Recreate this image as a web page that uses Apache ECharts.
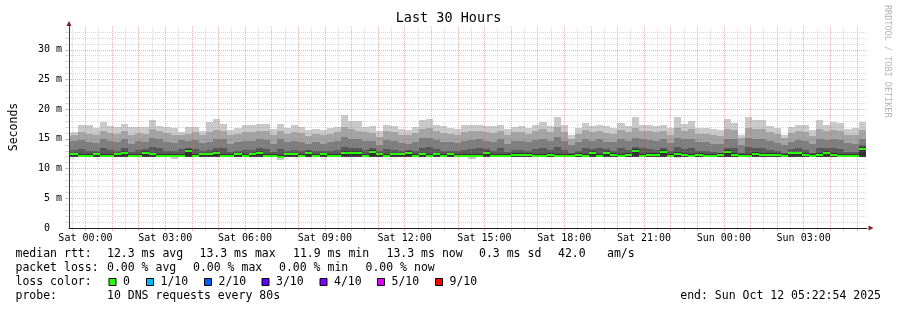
<!DOCTYPE html>
<html><head><meta charset="utf-8">
<script src="https://cdn.jsdelivr.net/npm/echarts@6/dist/echarts.min.js"></script>
<style>html,body{margin:0;padding:0;background:#fff}#c{width:897px;height:310px}</style>
</head><body><div id="c"></div>
<script>
// ---- time layout (hours relative to Sat 00:00) ----
const X_MIN_H = -0.618333;      // Fri 23:22:54
const X_MAX_H = 29.381667;      // Sun 05:22:54
const FIRST_BAR_START_MIN = -48;
const BAR_STEP_MIN = 16;
const xLabelHours = [0, 3, 6, 9, 12, 15, 18, 21, 24, 27];
const yLabelValues = [0, 5, 10, 15, 20, 25, 30];

// ---- data (ms), one value per 16-minute bar ----
const median = [
 12.4,12.4,12.1,12.1,12.4,12.1,12.1,12.4,12.7,12.1,
 12.1,12.7,12.4,12.1,12.1,12.1,12.1,13.0,12.1,12.4,
 12.4,12.7,12.1,12.1,12.4,12.1,12.4,12.7,12.1,12.1,
 11.9,12.4,12.4,12.1,12.7,12.1,12.4,12.1,12.1,12.7,
 12.7,12.7,12.1,12.8,12.4,12.1,12.4,12.4,12.7,12.1,
 12.4,12.1,12.4,12.1,12.4,12.1,12.1,12.1,12.1,12.7,
 12.1,12.1,12.1,12.3,12.3,12.3,12.1,12.1,12.3,12.1,
 12.1,12.1,12.3,12.1,12.7,12.1,12.7,12.35,12.1,12.35,
 12.95,12.1,12.35,12.35,12.85,12.1,12.5,12.3,12.1,12.3,
 12.1,12.1,12.3,12.75,12.35,12.1,12.1,12.5,12.25,12.25,
 12.25,12.1,12.55,12.55,12.3,12.1,12.3,12.6,12.3,12.1,
 12.1,12.1,13.3];
const pingMin = [
 11.9,11.9,11.9,11.9,11.9,11.9,11.9,11.9,11.9,11.9,
 11.9,11.9,11.9,11.9,11.9,11.6,11.9,11.9,11.9,11.9,
 11.9,11.9,11.9,11.9,11.9,11.9,11.9,11.9,11.9,11.9,
 11.5,11.9,11.9,11.9,11.9,11.9,11.9,11.9,11.9,11.9,
 11.9,11.9,11.9,11.9,11.9,11.9,11.9,11.9,11.9,11.9,
 11.9,11.9,11.9,11.9,11.9,11.9,11.9,11.6,11.9,11.9,
 11.9,11.9,11.9,11.9,11.9,11.9,11.9,11.9,11.9,11.9,
 11.9,11.9,11.9,11.9,11.9,11.9,11.9,11.9,11.9,11.9,
 11.9,11.9,11.9,11.9,11.9,11.9,11.7,11.9,11.9,11.9,
 11.9,11.9,11.9,11.9,11.9,11.9,11.9,11.9,11.9,11.9,
 11.9,11.9,11.9,11.9,11.9,11.9,11.9,11.9,11.9,11.9,
 11.9,11.9,11.9];
const ping5 = [
 12.0,12.0,12.0,12.0,12.0,12.0,12.0,12.0,12.0,12.0,
 12.0,12.0,12.0,12.0,12.0,12.0,12.0,12.0,12.0,12.0,
 12.0,12.0,12.0,12.0,12.0,12.0,12.0,12.0,12.0,12.0,
 11.85,12.0,12.0,12.0,12.0,12.0,12.0,12.0,12.0,12.0,
 12.0,12.0,12.0,12.0,12.0,12.0,12.0,12.0,12.0,12.0,
 12.0,12.0,12.0,12.0,12.0,12.0,12.0,12.0,12.0,12.0,
 12.0,12.0,12.0,12.0,12.0,12.0,12.0,12.0,12.0,12.0,
 12.0,12.0,12.0,12.0,12.0,12.0,12.0,12.0,12.0,12.0,
 12.0,12.0,12.0,12.0,12.0,12.0,12.0,12.0,12.0,12.0,
 12.0,12.0,12.0,12.0,12.0,12.0,12.0,12.0,12.0,12.0,
 12.0,12.0,12.0,12.0,12.0,12.0,12.0,12.0,12.0,12.0,
 12.0,12.0,12.0];
const ping6 = [
 12.7,12.7,12.45,12.5,12.7,12.45,12.5,12.7,13.0,12.45,
 12.5,13.0,12.7,12.45,12.5,12.45,12.5,13.25,12.45,12.7,
 12.7,13.0,12.5,12.45,12.7,12.45,12.7,13.0,12.5,12.45,
 12.3,12.7,12.7,12.45,13.0,12.45,12.7,12.45,12.5,13.0,
 13.0,13.0,12.5,13.1,12.65,12.45,12.7,12.7,13.0,12.45,
 12.7,12.5,12.7,12.45,12.7,12.45,12.5,12.5,12.45,13.0,
 12.45,12.5,12.45,12.6,12.6,12.6,12.45,12.5,12.6,12.5,
 12.45,12.4,12.6,12.45,13.0,12.5,13.0,12.6,12.45,12.6,
 13.25,12.45,12.6,12.65,13.15,12.45,12.8,12.6,12.45,12.6,
 12.45,12.45,12.6,13.05,12.65,12.4,12.45,12.8,12.55,12.55,
 12.55,12.4,12.85,12.85,12.6,12.45,12.6,12.9,12.6,12.45,
 12.45,12.5,13.6];
const ping7 = [
 13.0,13.1,13.3,13.0,12.9,13.4,13.2,13.0,13.5,12.8,
 13.1,13.3,13.6,13.4,13.0,12.9,13.3,13.5,13.3,12.9,
 13.1,13.5,13.4,12.8,13.0,13.2,13.1,13.4,13.3,12.8,
 13.3,13.0,13.2,13.0,13.1,13.0,12.9,13.0,13.1,13.7,
 13.5,13.4,13.1,13.4,12.9,13.3,13.1,12.9,13.2,13.0,
 13.5,13.6,13.3,13.0,13.0,12.9,13.2,13.3,13.4,13.3,
 13.0,13.4,12.8,13.1,13.2,12.9,13.3,13.5,13.1,13.7,
 13.2,12.7,13.0,13.4,13.3,13.4,13.3,13.0,13.5,13.1,
 13.7,13.4,13.3,13.2,13.5,12.9,13.6,13.3,13.5,12.9,
 12.9,12.8,12.7,13.5,13.4,12.6,13.6,13.5,13.4,13.1,
 12.9,12.6,13.3,13.4,13.2,12.7,13.4,13.5,13.4,13.3,
 12.8,12.8,13.9];
const ping8 = [
 14.4,14.6,14.8,14.5,14.3,14.9,14.7,14.4,15.0,14.2,
 14.6,14.5,15.2,14.9,14.5,14.3,14.8,14.6,14.8,14.3,
 14.5,15.0,14.9,14.2,14.4,14.7,14.6,14.9,14.8,14.2,
 14.9,14.4,14.7,14.5,14.1,14.4,14.2,14.5,14.6,15.4,
 15.0,14.9,14.6,14.6,14.0,14.8,14.6,14.3,14.2,14.5,
 15.1,15.2,14.8,14.5,14.4,14.3,14.7,14.8,14.9,14.6,
 14.5,14.9,14.2,14.6,14.7,14.4,14.8,15.0,14.6,15.3,
 14.7,14.0,14.5,15.0,14.6,14.9,14.5,14.4,15.0,14.6,
 15.2,14.9,14.8,14.6,14.9,14.3,15.1,14.9,15.0,14.4,
 14.4,14.2,14.1,15.0,14.9,13.9,15.2,15.0,15.0,14.6,
 14.3,13.9,14.5,14.8,14.7,14.1,15.0,14.8,14.9,14.8,
 14.3,14.2,15.0];
const ping9 = [
 15.5,15.6,16.1,15.9,15.6,16.3,16.0,15.8,16.4,15.6,
 16.0,15.9,16.6,16.3,16.0,15.7,15.6,15.8,16.2,15.6,
 16.1,16.5,16.4,15.6,15.8,16.2,16.1,16.4,16.3,15.6,
 16.3,15.8,16.2,16.0,15.5,15.8,15.6,15.9,16.1,17.0,
 16.6,16.4,16.1,16.0,15.4,16.3,16.1,15.7,15.6,16.0,
 16.7,16.8,16.3,16.0,15.8,15.7,16.2,16.3,16.4,16.1,
 16.0,16.4,15.6,16.1,16.2,15.9,16.3,16.6,16.1,17.0,
 16.2,15.0,15.9,16.5,16.1,16.4,16.0,15.9,16.5,16.1,
 16.9,16.4,16.3,16.1,16.4,15.7,16.8,16.4,16.6,15.9,
 15.8,15.6,15.5,16.7,16.5,15.1,16.9,16.6,16.7,16.1,
 15.8,15.1,16.0,16.4,16.2,15.5,16.6,16.3,16.5,16.4,
 15.7,15.6,16.5];
const pingMax = [
 16.0,16.2,17.3,17.4,16.8,17.8,17.1,17.0,17.5,17.0,
 17.0,17.0,18.1,17.1,17.0,16.8,16.2,17.0,17.0,16.3,
 17.9,18.4,17.5,16.5,16.8,17.3,17.3,17.5,17.5,16.7,
 17.5,16.9,17.4,17.0,16.5,16.7,16.5,16.8,17.0,19.0,
 18.0,18.0,17.0,17.1,16.4,17.4,17.1,16.7,16.5,17.0,
 18.2,18.3,17.4,17.1,16.9,16.7,17.4,17.4,17.4,17.1,
 17.1,17.4,16.7,17.0,17.1,16.9,17.4,17.8,17.1,18.6,
 17.3,15.6,16.9,17.7,17.1,17.4,17.1,16.9,17.7,17.1,
 18.6,17.4,17.4,17.1,17.4,16.8,18.7,17.5,18.0,16.9,
 16.8,16.7,16.5,18.3,17.7,15.7,18.6,18.2,18.2,17.1,
 16.8,15.7,17.0,17.4,17.3,16.5,18.1,17.3,17.8,17.7,
 16.7,16.8,17.8];

// ---- legend texts ----
const rttStats = ['12.3 ms avg', '13.3 ms max', '11.9 ms min', '13.3 ms now', '0.3 ms sd', '42.0', 'am/s'];
const lossStats = ['0.00 % avg', '0.00 % max', '0.00 % min', '0.00 % now'];
const lossLabels = ['0', '1/10', '2/10', '3/10', '4/10', '5/10', '9/10'];
const lossColors = ['#26ff00', '#00b8ff', '#0059ff', '#5e00ff', '#7e00ff', '#dd00ff', '#ff0000'];
const probeText = '10 DNS requests every 80s';
const endText = 'end: Sun Oct 12 05:22:54 2025';

// ---- build ----
const MONO = '"DejaVu Sans Mono", monospace';
const SWIDTH = 0.17;
const SMOKE_COLORS = ['#cacaca', '#323232', '#585858', '#7e7e7e', '#a4a4a4', '#cacaca'];

const barData = median.map((m, i) => [
  (FIRST_BAR_START_MIN + i * BAR_STEP_MIN) / 60,
  (FIRST_BAR_START_MIN + (i + 1) * BAR_STEP_MIN) / 60,
  pingMin[i], ping5[i], ping6[i], ping7[i], ping8[i], ping9[i], pingMax[i], m
]);

function renderBar(params, api) {
  const t0 = Math.max(api.value(0), X_MIN_H);
  const t1 = Math.min(api.value(1), X_MAX_H);
  if (t1 <= t0) return null;
  const x0 = Math.round(api.coord([t0, 0])[0]);
  const x1 = Math.round(api.coord([t1, 0])[0]);
  const children = [];
  for (let k = 0; k < 6; k++) {
    const lo = api.value(2 + k), hi = api.value(3 + k);
    const yLo = Math.round(api.coord([t0, lo])[1]);
    const yHi = Math.round(api.coord([t0, hi])[1]);
    if (yLo - yHi <= 0) continue;
    children.push({ type: 'rect', shape: { x: x0, y: yHi, width: x1 - x0, height: yLo - yHi },
      style: { fill: SMOKE_COLORS[k] } });
  }
  const m = api.value(9);
  const yA = Math.round(api.coord([t0, m + SWIDTH])[1]);
  const yB = Math.round(api.coord([t0, m - SWIDTH])[1]);
  children.push({ type: 'rect', shape: { x: x0, y: yA, width: x1 - x0, height: Math.max(2, yB - yA) },
    style: { fill: lossColors[0] } });
  return { type: 'group', children };
}

const series = [{
  name: 'smoke', type: 'custom', data: barData, renderItem: renderBar,
  encode: { x: [0, 1], y: [2, 3, 4, 5, 6, 7, 8, 9] }, z: 2, silent: true, animation: false
}];

// grid lines drawn on top (as rrdtool does)
const MAJ = 'rgba(222,79,79,0.45)', MIN = 'rgba(143,143,143,0.34)';
const gridLines = [];
for (let h = -0.5; h <= 29.0; h += 0.5) {
  gridLines.push({ xAxis: h, lineStyle: { color: Number.isInteger(h) ? MAJ : MIN, width: 1, type: [1, 1] } });
}
for (let v = 1; v <= 33; v++) {
  gridLines.push({ yAxis: v, lineStyle: { color: v % 5 === 0 ? MAJ : MIN, width: 1, type: [1, 1] } });
}
series.push({
  name: 'grid', type: 'line', data: [], z: 5, silent: true, animation: false,
  markLine: { silent: true, symbol: ['none', 'none'], label: { show: false }, animation: false, data: gridLines }
});

const hourTicks = [], halfTicks = [];
for (let h = -0.5; h <= 29.0; h += 0.5) (Number.isInteger(h) ? hourTicks : halfTicks).push(h);
const yMajorTicks = [5, 10, 15, 20, 25, 30];
const yMinorTicks = [];
for (let v = 1; v <= 33; v++) if (v % 5) yMinorTicks.push(v);

const graphic = [];
function txt(x, y, text) {
  graphic.push({ type: 'text', x, y, silent: true, style: {
    text, font: '11.5px ' + MONO, fill: '#000', align: 'left', verticalAlign: 'middle',
    textAlign: 'left', textVerticalAlign: 'middle' } });
}
txt(15.5, 254.5, 'median rtt:');
[107, 199.5, 293, 386.5, 479, 558, 607].forEach((x, i) => txt(x, 254.5, rttStats[i]));
txt(15.5, 268.5, 'packet loss:');
[107, 193, 279, 365.5].forEach((x, i) => txt(x, 268.5, lossStats[i]));
txt(15.5, 282.5, 'loss color:');
[108.5, 146, 204, 261.5, 319.5, 377, 435].forEach((x, i) => {
  graphic.push({ type: 'rect', silent: true, shape: { x: x + 0.5, y: 278.5, width: 7, height: 7 },
    style: { fill: lossColors[i], stroke: '#000', lineWidth: 1 } });
  txt(x + 14.5, 282.5, lossLabels[i]);
});
txt(15.5, 296.5, 'probe:');
txt(107, 296.5, probeText);
graphic.push({ type: 'text', x: 881, y: 296.5, silent: true, style: {
  text: endText, font: '11.5px ' + MONO, fill: '#000', align: 'right', verticalAlign: 'middle',
  textAlign: 'right', textVerticalAlign: 'middle' } });
graphic.push({ type: 'text', x: 887.5, y: 5, rotation: -Math.PI / 2, silent: true, style: {
  text: 'RRDTOOL / TOBI OETIKER', font: '8.5px ' + MONO, fill: '#b4b4b4', align: 'left', verticalAlign: 'middle',
  textAlign: 'left', textVerticalAlign: 'middle' } });

const chart = echarts.init(document.getElementById('c'), null, { renderer: 'canvas' });
chart.setOption({
  animation: false,
  backgroundColor: '#ffffff',
  title: { text: 'Last 30 Hours', left: 'center', top: 11, padding: 0,
    textStyle: { fontFamily: MONO, fontSize: 13.5, fontWeight: 'normal', color: '#000' } },
  grid: { left: 67, right: 30, top: 26, bottom: 82 },
  xAxis: [
    { type: 'value', min: X_MIN_H, max: X_MAX_H, position: 'bottom', z: 9,
      axisLine: { show: true, onZero: false, lineStyle: { color: '#801f1f', width: 0 }, symbol: ['none', 'triangle'], symbolSize: [5, 5], symbolOffset: [0, 4] },
      axisTick: { show: true, customValues: halfTicks, length: 3, lineStyle: { color: MIN, width: 1 } },
      axisLabel: { show: false }, splitLine: { show: false } },
    { type: 'value', min: X_MIN_H, max: X_MAX_H, position: 'bottom', z: 10,
      axisLine: { show: true, onZero: false, lineStyle: { color: '#1f1f1f' } },
      axisTick: { show: true, customValues: hourTicks, length: 3, lineStyle: { color: MAJ } },
      axisLabel: { customValues: xLabelHours, margin: 5, fontFamily: MONO, fontSize: 10, color: '#000',
        formatter: v => (v < 24 ? 'Sat ' : 'Sun ') + String(v % 24).padStart(2, '0') + ':00' },
      splitLine: { show: false } }
  ],
  yAxis: [
    { type: 'value', min: 0, max: 34, position: 'left', z: 9,
      axisLine: { show: true, onZero: false, lineStyle: { color: '#801f1f', width: 0 }, symbol: ['none', 'triangle'], symbolSize: [5, 5], symbolOffset: [0, 2.5] },
      axisTick: { show: true, customValues: yMajorTicks, length: 4, lineStyle: { color: MAJ, width: 1 } },
      axisLabel: { show: false }, splitLine: { show: false } },
    { type: 'value', min: 0, max: 34, position: 'left', z: 10,
      axisLine: { show: true, onZero: false, lineStyle: { color: '#3a3a3a' } },
      axisTick: { show: true, customValues: yMinorTicks, length: 4, lineStyle: { color: MIN } },
      axisLabel: { customValues: yLabelValues, margin: 7, fontFamily: MONO, fontSize: 10, color: '#000',
        formatter: v => v === 0 ? '0  ' : v + ' m' },
      splitLine: { show: false },
      name: 'Seconds', nameLocation: 'middle', nameGap: 49, nameRotate: 90,
      nameTextStyle: { fontFamily: MONO, fontSize: 11.5, color: '#000' } }
  ],
  series,
  graphic
});
</script>
</body></html>
